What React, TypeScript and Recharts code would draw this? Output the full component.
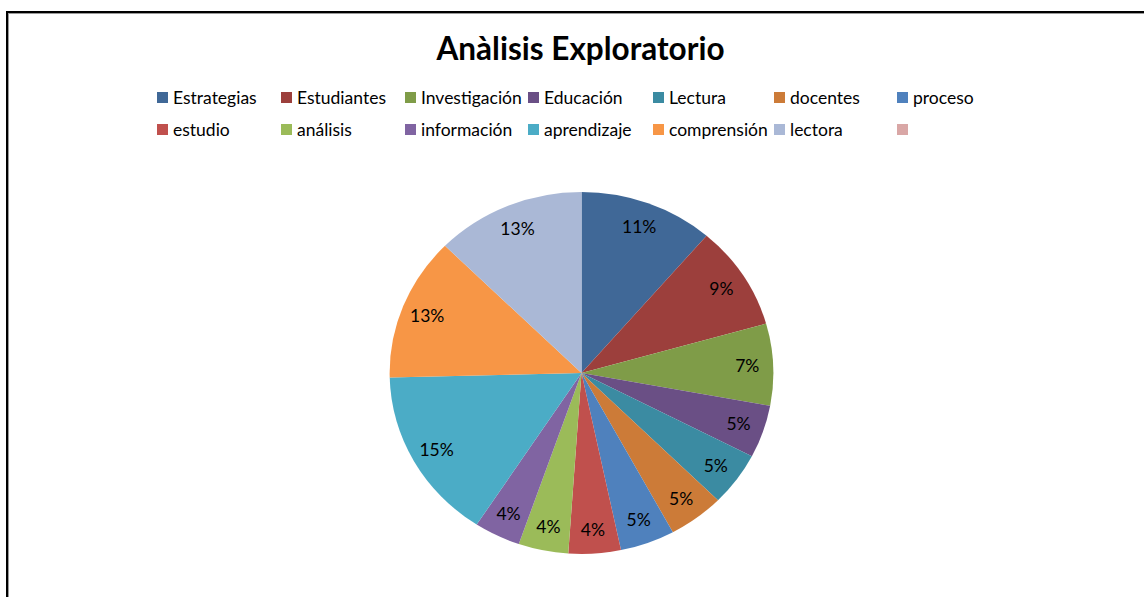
import React from 'react';
import { PieChart, Pie, Cell, Legend } from 'recharts';

const categories = [
  'Estrategias', 'Estudiantes', 'Investigación', 'Educación', 'Lectura', 'docentes', 'proceso',
  'estudio', 'análisis', 'información', 'aprendizaje', 'comprensión', 'lectora', '',
];
const shares = [11.3, 9.3, 7.3, 4.7, 4.8, 4.7, 4.6, 4.4, 4.2, 3.9, 15.4, 12.8, 12.6, 0];
const colors = [
  '#406897', '#9c3f3c', '#7f9c48', '#6a4f85', '#3b8ba2', '#cc7b38', '#4f81bd',
  '#c0504d', '#9bbb59', '#8064a2', '#4bacc6', '#f79646', '#aab8d6', '#d9a7a6',
];

const data = categories.map((name, i) => ({ name, value: shares[i] }));

// chart margin is 5px, so these land the centre at (581.5, 373) on the page
const CX = 576.5;
const CY = 368;
const R = 181;
const STRETCH = 1.06; // the original pie is a bit wider than tall
const RAD = Math.PI / 180;
const FONT = 'Lato, "Open Sans", sans-serif';

const renderLabel = (props: any) => {
  const { cx, cy, midAngle, outerRadius, percent, value } = props;
  if (!value) return null;
  const r = outerRadius * 0.865;
  const x = cx + r * Math.cos(-midAngle * RAD) * STRETCH;
  const y = cy + r * Math.sin(-midAngle * RAD);
  return (
    <text x={x} y={y} fill="#000" fontSize={17.5} fontFamily={FONT} textAnchor="middle" dominantBaseline="central">
      {`${Math.round(percent * 100)}%`}
    </text>
  );
};

const COL_X = [157, 281, 405, 528, 653, 774, 897];
const ROW_Y = [97, 129];

const renderLegend = () => (
  <div style={{ position: 'relative', width: 1144, height: 150 }}>
    {categories.map((name, i) => {
      const left = COL_X[i % 7];
      const top = ROW_Y[Math.floor(i / 7)];
      return (
        <div key={i} style={{ position: 'absolute', left, top: top - 11, height: 22, display: 'flex', alignItems: 'center', whiteSpace: 'nowrap' }}>
          <span style={{ display: 'inline-block', width: 11, height: 11, background: colors[i], marginRight: 5 }} />
          <span style={{ fontFamily: FONT, fontSize: 17.5, color: '#000' }}>{name}</span>
        </div>
      );
    })}
  </div>
);

export default function App() {
  return (
    <div style={{ position: 'fixed', left: 0, top: 0, width: 1144, height: 597, background: '#fff', overflow: 'hidden' }}>
      <style>{`.recharts-pie-sector { transform-origin: ${CX + 5}px ${CY + 5}px; transform: scaleX(${STRETCH}); }`}</style>
      <div style={{ position: 'absolute', left: 6, top: 11, width: 1200, height: 700, borderLeft: '2px solid #000', borderTop: '2px solid #000', boxShadow: 'inset 1px 1px 0 #9a9a9a' }} />
      <div style={{ position: 'absolute', left: 0, top: 29, width: 1161, textAlign: 'center', fontFamily: FONT, fontWeight: 700, fontSize: 31.5, lineHeight: '38px', color: '#000' }}>
        Anàlisis Exploratorio
      </div>
      <div style={{ position: 'absolute', left: 0, top: 0 }}>
        <PieChart width={1144} height={597}>
          <Legend content={renderLegend} wrapperStyle={{ position: 'absolute', left: 0, top: 0, width: 1144 }} />
          <Pie
            data={data}
            dataKey="value"
            nameKey="name"
            cx={CX}
            cy={CY}
            outerRadius={R}
            startAngle={90}
            endAngle={-270}
            stroke="none"
            label={renderLabel}
            labelLine={false}
            isAnimationActive={false}
          >
            {data.map((d, i) => (
              <Cell key={d.name + i} fill={colors[i]} />
            ))}
          </Pie>
        </PieChart>
      </div>
    </div>
  );
}
